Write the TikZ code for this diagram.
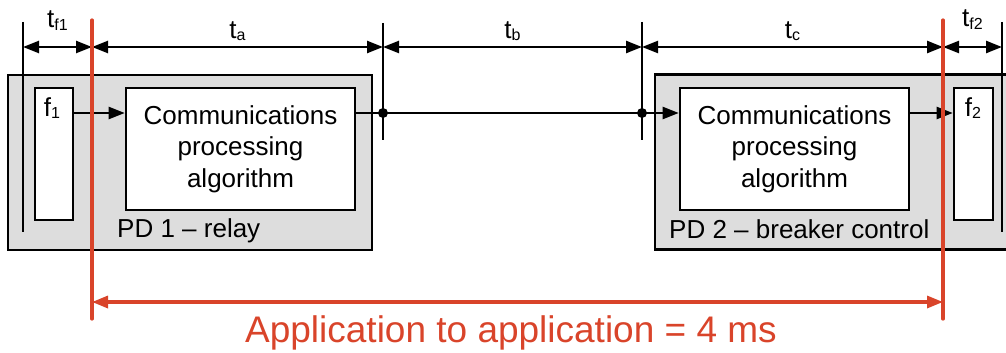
\documentclass[tikz,border=0pt]{standalone}
\usepackage{fontspec}
\setmainfont{Liberation Sans}
\usepackage{xcolor}
\usetikzlibrary{arrows.meta,positioning,calc}
\definecolor{appred}{HTML}{D9442A}
\definecolor{devgray}{HTML}{DDDDDD}
\newcommand{\tsub}[2]{#1\raisebox{-2.5pt}{\fontsize{16}{16}\selectfont #2}}
\tikzset{
  devbox/.style={draw=black,fill=devgray,line width=2.6pt,inner sep=0pt,minimum height=175pt},
  algbox/.style={draw=black,fill=white,line width=2.6pt,align=center,inner sep=0pt,
    minimum width=229pt,minimum height=122pt,font={\fontsize{26}{31.5}\selectfont}},
  funcbox/.style={draw=black,fill=white,line width=2.6pt,inner sep=0pt,minimum width=38pt,minimum height=132pt},
  devlabel/.style={anchor=base west,inner sep=0pt,font={\fontsize{26}{30}\selectfont}},
  tlabel/.style={anchor=base,inner sep=0pt,font={\fontsize{26}{30}\selectfont}},
  timeline/.style={draw=black,line width=2.4pt},
  redline/.style={draw=appred,line width=3.2pt,line cap=round},
  dimarrow/.style={{Triangle[length=16pt,width=12pt]}-{Triangle[length=16pt,width=12pt]},draw=black,line width=2.4pt},
  apparrow/.style={{Triangle[length=16pt,width=12pt]}-{Triangle[length=16pt,width=12pt]},draw=appred,line width=3.2pt},
  sigarrow/.style={-{Triangle[length=16pt,width=12pt]},draw=black,line width=2.4pt},
  sigline/.style={draw=black,line width=2.4pt}
}
\begin{document}
\begin{tikzpicture}[x=1pt,y=-1pt]
  \useasboundingbox (0,0) rectangle (1006,353);
  \clip (0,0) rectangle (1006,353);
  % devices
  \node[devbox,minimum width=364pt] (pd1) at (190,162.5) {};
  \node[devbox,minimum width=375pt] (pd2) at (842.5,162) {};
  \node[algbox] (alg1) at (240.5,149) {Communications\\processing\\algorithm};
  \node[algbox] (alg2) at (794.5,149) {Communications\\processing\\algorithm};
  \node[funcbox] (f1) at (54,154) {};
  \node[funcbox,minimum width=39pt] (f2) at (973.5,154) {};
  \node[tlabel] (f1lbl) at (52,116) {\tsub{f}{1}};
  \node[tlabel] (f2lbl) at (973,116) {\tsub{f}{2}};
  \node[devlabel] (pd1lbl) at (117,237) {PD 1 -- relay};
  \node[devlabel] (pd2lbl) at (669,238) {PD 2 -- breaker control};
  % time marks
  \coordinate (k0) at (23,22);   \coordinate (k0b) at (23,232);
  \coordinate (k1) at (383,23);  \coordinate (k1b) at (383,140);
  \coordinate (k2) at (642,22);  \coordinate (k2b) at (642,140);
  \coordinate (k3) at (1002,22); \coordinate (k3b) at (1002,232);
  \coordinate (r1) at (92,20);   \coordinate (r1b) at (92,319);
  \coordinate (r2) at (943,20);  \coordinate (r2b) at (943,319);
  \coordinate (dim) at (0,47);
  \coordinate (bus) at (0,113);
  \coordinate (app) at (0,302);
  \foreach \k in {0,...,3}
    \draw[timeline] (k\k) -- (k\k b);
  % signal path
  \draw[sigarrow] (f1.east |- bus) -- (alg1.west |- bus);
  \draw[sigline] (alg1.east |- bus) -- (k2 |- bus);
  \draw[sigarrow] (k2 |- bus) -- (alg2.west |- bus);
  \draw[sigarrow] (alg2.east |- bus) -- (f2.west |- bus);
  \fill (k1 |- bus) circle (5pt);
  \fill (k2 |- bus) circle (5pt);
  % delays
  \draw[dimarrow] (k0 |- dim) -- node[tlabel,yshift=19pt] (tf1) {\tsub{t}{f1}} (r1 |- dim);
  \draw[dimarrow] (r1 |- dim) -- node[tlabel,yshift=9pt] (ta) {\tsub{t}{a}} (k1 |- dim);
  \draw[dimarrow] (k1 |- dim) -- node[tlabel,yshift=9pt] (tb) {\tsub{t}{b}} (k2 |- dim);
  \draw[dimarrow] (k2 |- dim) -- node[tlabel,yshift=9pt] (tc) {\tsub{t}{c}} (r2 |- dim);
  \draw[dimarrow] (r2 |- dim) -- node[tlabel,yshift=20pt] (tf2) {\tsub{t}{f2}} (k3 |- dim);
  % application to application
  \draw[redline] (r1) -- (r1b);
  \draw[redline] (r2) -- (r2b);
  \draw[apparrow] (r1 |- app) -- (r2 |- app);
  \node[font={\fontsize{37}{40}\selectfont},text=appred,anchor=base,inner sep=0pt] (apptxt) at (511,342) {Application to application = 4 ms};
\end{tikzpicture}
\end{document}
